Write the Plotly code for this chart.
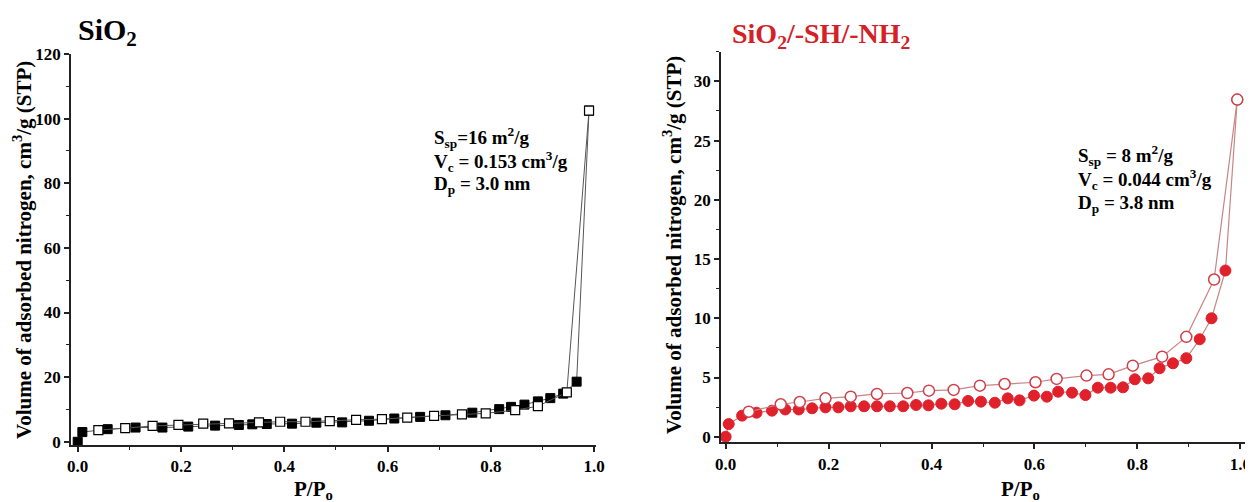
import plotly.graph_objects as go

# page body has an 8px default margin, so the figure is placed at (8, 8)
OFF = 8
W, H = 1253 - OFF, 502 - OFF

# ---------------- data: SiO2 (left) ----------------
sio2_ads_p = [0.0, 0.009, 0.058, 0.112, 0.164, 0.214, 0.266, 0.312, 0.338, 0.366, 0.415, 0.462,
              0.512, 0.564, 0.613, 0.663, 0.712, 0.764, 0.816, 0.839, 0.865, 0.891, 0.915, 0.940,
              0.966, 0.990]
sio2_ads_v = [0.0, 3.0, 3.9, 4.4, 4.4, 4.7, 5.0, 5.2, 5.4, 5.5, 5.6, 5.9,
              6.0, 6.5, 7.2, 7.7, 8.2, 9.0, 10.1, 10.8, 11.5, 12.5, 13.5, 14.9,
              18.6, 102.5]
sio2_des_p = [0.990, 0.947, 0.891, 0.847, 0.790, 0.744, 0.690, 0.638, 0.589, 0.539, 0.488,
              0.441, 0.392, 0.351, 0.293, 0.243, 0.195, 0.145, 0.092, 0.040]
sio2_des_v = [102.5, 15.3, 11.0, 9.8, 8.8, 8.5, 8.0, 7.5, 7.0, 6.8, 6.4,
              6.2, 6.2, 6.0, 5.7, 5.6, 5.2, 4.9, 4.2, 3.6]

# ---------------- data: SiO2/-SH/-NH2 (right) ----------------
mod_ads_p = [0.0, 0.006, 0.032, 0.060, 0.090, 0.116, 0.142, 0.168, 0.194, 0.219, 0.243, 0.269,
             0.294, 0.319, 0.345, 0.370, 0.394, 0.419, 0.445, 0.471, 0.496, 0.523, 0.548, 0.571,
             0.599, 0.624, 0.646, 0.673, 0.699, 0.723, 0.748, 0.772, 0.795, 0.821, 0.843, 0.869,
             0.895, 0.921, 0.944, 0.971, 0.994]
mod_ads_v = [0.0, 1.07, 1.78, 2.03, 2.2, 2.3, 2.3, 2.4, 2.48, 2.48, 2.57, 2.57,
             2.57, 2.57, 2.57, 2.68, 2.65, 2.79, 2.74, 3.02, 2.96, 2.87, 3.24, 3.07,
             3.47, 3.38, 3.80, 3.72, 3.52, 4.14, 4.14, 4.17, 4.85, 4.93, 5.78, 6.20,
             6.63, 8.23, 10.0, 14.03, 28.46]
mod_des_p = [0.994, 0.949, 0.895, 0.848, 0.791, 0.744, 0.701, 0.643, 0.602, 0.542, 0.494,
             0.443, 0.395, 0.353, 0.294, 0.243, 0.194, 0.144, 0.107, 0.045]
mod_des_v = [28.46, 13.27, 8.43, 6.76, 6.0, 5.27, 5.16, 4.88, 4.60, 4.45, 4.31,
             3.95, 3.89, 3.69, 3.61, 3.38, 3.24, 2.93, 2.74, 2.11]

x_ticks = [0.0, 0.2, 0.4, 0.6, 0.8, 1.0]
x_ticklabels = ["0.0", "0.2", "0.4", "0.6", "0.8", "1.0"]
left_y_ticks = [0, 20, 40, 60, 80, 100, 120]
left_y_ticklabels = ["0", "20", "40", "60", "80", "100", "120"]
right_y_ticks = [0, 5, 10, 15, 20, 25, 30]
right_y_ticklabels = ["0", "5", "10", "15", "20", "25", "30"]

left_stats = ["S<sub>sp</sub>=16 m<sup>2</sup>/g",
              "V<sub>c</sub> = 0.153 cm<sup>3</sup>/g",
              "D<sub>p</sub> = 3.0 nm"]
right_stats = ["S<sub>sp</sub> = 8 m<sup>2</sup>/g",
               "V<sub>c</sub> = 0.044 cm<sup>3</sup>/g",
               "D<sub>p</sub> = 3.8 nm"]

FONT = "Liberation Serif"
RED = "#e0202a"

fig = go.Figure()

# left panel
fig.add_trace(go.Scatter(
    x=sio2_ads_p, y=sio2_ads_v, mode="lines+markers", xaxis="x", yaxis="y",
    line=dict(color="#555555", width=1),
    marker=dict(symbol="square", size=9,
                color=["black"] * (len(sio2_ads_p) - 1) + ["white"],
                line=dict(color="black", width=1)),
    showlegend=False))
fig.add_trace(go.Scatter(
    x=sio2_des_p, y=sio2_des_v, mode="lines+markers", xaxis="x", yaxis="y",
    line=dict(color="#555555", width=1),
    marker=dict(symbol="square", size=9, color="white", line=dict(color="black", width=1.2)),
    showlegend=False))

# right panel
fig.add_trace(go.Scatter(
    x=mod_ads_p, y=mod_ads_v, mode="lines+markers", xaxis="x2", yaxis="y2",
    line=dict(color="#c98585", width=1.2),
    marker=dict(symbol="circle", size=11,
                color=[RED] * (len(mod_ads_p) - 1) + ["white"],
                line=dict(color=RED, width=1)),
    showlegend=False))
fig.add_trace(go.Scatter(
    x=mod_des_p, y=mod_des_v, mode="lines+markers", xaxis="x2", yaxis="y2",
    line=dict(color="#c98585", width=1.2),
    marker=dict(symbol="circle", size=11, color="white", line=dict(color="#d04048", width=1.5)),
    showlegend=False))

tickfont = dict(family=FONT, size=17, color="black")


def bold(lst):
    return ["<b>" + s + "</b>" for s in lst]


def xax(domain, rng, anchor):
    return dict(domain=domain, range=rng, anchor=anchor, automargin=False,
                tickvals=x_ticks, ticktext=bold(x_ticklabels), ticks="outside", ticklen=5,
                tickwidth=1.5, tickcolor="#222", showline=True, linecolor="#222", linewidth=1.8,
                showgrid=False, zeroline=False, tickfont=tickfont,
                minor=dict(ticks="outside", ticklen=3, dtick=0.1, tick0=0, tickcolor="#222",
                           tickwidth=1.2, showgrid=False))


def yax(domain, rng, anchor, ticks, labels, minor_dt):
    return dict(domain=domain, range=rng, anchor=anchor, automargin=False,
                tickvals=ticks, ticktext=bold(labels), ticks="outside", ticklen=5,
                tickwidth=1.5, tickcolor="#222", showline=True, linecolor="#222", linewidth=1.8,
                showgrid=False, zeroline=False, tickfont=tickfont,
                minor=dict(ticks="outside", ticklen=3, dtick=minor_dt, tick0=0, tickcolor="#222",
                           tickwidth=1.2, showgrid=False))


def px(xp):
    return (xp - OFF) / W


def py(yp):
    return 1 - (yp - OFF) / H


fig.update_layout(
    width=W, height=H, autosize=False,
    margin=dict(l=0, r=0, t=0, b=0),
    paper_bgcolor="white", plot_bgcolor="white",
    xaxis=xax([px(71), px(596)], [-0.013, 1.0035], "y"),
    yaxis=yax([py(445), py(54)], [-1.0, 120.0], "x", left_y_ticks, left_y_ticklabels, 10),
    xaxis2=xax([px(721), px(1245)], [-0.009, 1.009], "y2"),
    yaxis2=yax([py(442.3), py(51.7)], [-0.47, 32.5], "x2", right_y_ticks, right_y_ticklabels, 2.5),
)

ann = []
# titles
ann.append(dict(text="<b>SiO<sub>2</sub></b>", x=px(76), y=py(32), xref="paper", yref="paper",
                xanchor="left", yanchor="middle", showarrow=False,
                font=dict(family=FONT, size=30, color="black")))
ann.append(dict(text="<b>SiO<sub>2</sub>/-SH/-NH<sub>2</sub></b>", x=px(730), y=py(36),
                xref="paper", yref="paper", xanchor="left", yanchor="middle", showarrow=False,
                font=dict(family=FONT, size=28, color="#d42027")))
# y titles
ytitle = "<b>Volume of adsorbed nitrogen, cm<sup>3</sup>/g (STP)</b>"
ann.append(dict(text=ytitle, x=px(22), y=py(250), xref="paper", yref="paper", textangle=-90,
                xanchor="center", yanchor="middle", showarrow=False,
                font=dict(family=FONT, size=21, color="black")))
ann.append(dict(text=ytitle, x=px(673), y=py(245), xref="paper", yref="paper", textangle=-90,
                xanchor="center", yanchor="middle", showarrow=False,
                font=dict(family=FONT, size=21, color="black")))
# x titles
for xc in (313, 1020):
    ann.append(dict(text="<b>P/P<sub>o</sub></b>", x=px(xc), y=py(490), xref="paper", yref="paper",
                    xanchor="center", yanchor="middle", showarrow=False,
                    font=dict(family=FONT, size=21, color="black")))
# stats
for i, t in enumerate(left_stats):
    ann.append(dict(text="<b>" + t + "</b>", x=px(432), y=py(137 + 24 * i), xref="paper", yref="paper",
                    xanchor="left", yanchor="middle", showarrow=False,
                    font=dict(family=FONT, size=19, color="black")))
for i, t in enumerate(right_stats):
    ann.append(dict(text="<b>" + t + "</b>", x=px(1076), y=py(156 + 24 * i), xref="paper", yref="paper",
                    xanchor="left", yanchor="middle", showarrow=False,
                    font=dict(family=FONT, size=19, color="black")))

fig.update_layout(annotations=ann)
fig.write_html("out.html")
